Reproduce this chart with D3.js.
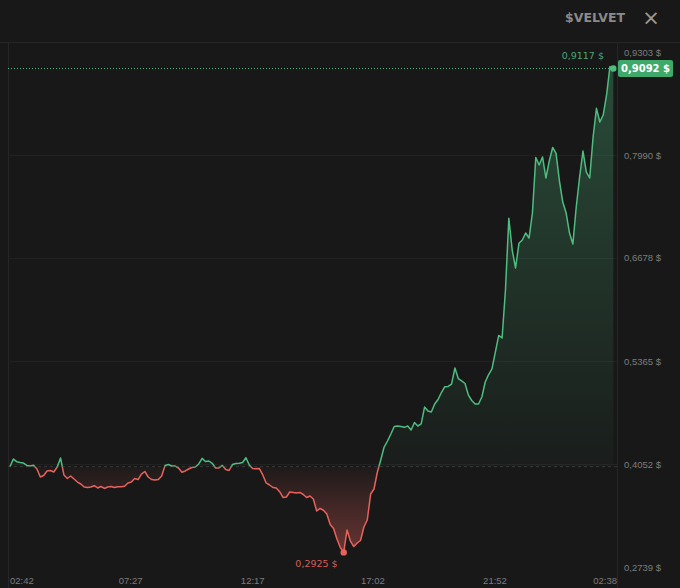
<!DOCTYPE html>
<html>
<head>
<meta charset="utf-8">
<script src="https://cdn.jsdelivr.net/npm/d3@7"></script>
<style>
  html, body { margin: 0; padding: 0; background: #181818; }
  svg { display: block; font-family: "DejaVu Sans", Verdana, sans-serif; }
  .grid line { stroke: #212121; shape-rendering: crispEdges; }
  .frame { stroke: #262626; shape-rendering: crispEdges; }
  .axis text { fill: #7c7c7c; font-size: 9.5px; }
  .axis path, .axis line { display: none; }
  .title { fill: #8a8a8a; font-size: 12.5px; font-weight: bold; }
  .close { fill: #9a9a9a; font-size: 21px; }
</style>
</head>
<body>
<script>
// 8-minute closes, starting at 02:42
const startTime = "02:42";
const stepMinutes = 8;
const prices = [
  0.4018, 0.4115, 0.4081, 0.4071, 0.4064, 0.4033, 0.4026, 0.4035, 0.3988, 0.3886,
  0.3905, 0.3963, 0.3969, 0.3950, 0.4013, 0.4128, 0.3912, 0.3867, 0.3899, 0.3861,
  0.3822, 0.3797, 0.3759, 0.3752, 0.3759, 0.3775, 0.3746, 0.3765, 0.3740, 0.3759,
  0.3765, 0.3752, 0.3762, 0.3762, 0.3768, 0.3810, 0.3822, 0.3867, 0.3854, 0.3924,
  0.3956, 0.3886, 0.3854, 0.3848, 0.3854, 0.3899, 0.4033, 0.4045, 0.4026, 0.4026,
  0.4001, 0.3946, 0.3963, 0.3988, 0.4007, 0.4013, 0.4052, 0.4124, 0.4084, 0.4090,
  0.4061, 0.4001, 0.4001, 0.4033, 0.3982, 0.3969, 0.4045, 0.4058, 0.4061, 0.4071,
  0.4132, 0.4039, 0.3994, 0.3991, 0.3994, 0.3912, 0.3810, 0.3784, 0.3752, 0.3746,
  0.3699, 0.3625, 0.3631, 0.3695, 0.3689, 0.3682, 0.3689, 0.3663, 0.3625, 0.3644,
  0.3606, 0.3453, 0.3485, 0.3462, 0.3415, 0.3281, 0.3230, 0.3096, 0.2988, 0.2925,
  0.3211, 0.3070, 0.3000, 0.3045, 0.3077, 0.3249, 0.3338, 0.3669, 0.3733, 0.3950,
  0.4103, 0.4268, 0.4345, 0.4434, 0.4530, 0.4536, 0.4530, 0.4519, 0.4536, 0.4485,
  0.4581, 0.4536, 0.4562, 0.4778, 0.4727, 0.4715, 0.4816, 0.4874, 0.4963, 0.5037,
  0.5040, 0.5071, 0.5275, 0.5141, 0.5110, 0.5078, 0.4931, 0.4861, 0.4816, 0.4816,
  0.4906, 0.5097, 0.5192, 0.5263, 0.5479, 0.5690, 0.5658, 0.6269, 0.7183, 0.6779,
  0.6550, 0.6865, 0.6907, 0.6996, 0.6932, 0.7251, 0.7958, 0.7863, 0.7965, 0.7697,
  0.7914, 0.8086, 0.8015, 0.7665, 0.7391, 0.7251, 0.6996, 0.6856, 0.7327, 0.7710,
  0.8041, 0.7773, 0.7697, 0.8219, 0.8585, 0.8411, 0.8500, 0.8755, 0.9117, 0.9092
];
const timeTicks = ["02:42", "07:27", "12:17", "17:02", "21:52", "02:38"];
const priceTicks = [0.2739, 0.4052, 0.5365, 0.6678, 0.7990, 0.9303];
const tokenName = "$VELVET";

const width = 680, height = 588;
const plotLeft = 8, plotRight = 617, plotTop = 42;
const green = "#4fbd80", red = "#e8625c";

function toMin(s) { const p = s.split(":"); return +p[0] * 60 + +p[1]; }
function sinceStart(s) { let m = toMin(s) - toMin(startTime); if (m < 0) m += 1440; return m; }
const fmt = v => d3.format(".4f")(v).replace(".", ",") + " $";

const data = prices.map((p, i) => ({ t: i * stepMinutes, p: p }));
const base = prices[0];

const x = d3.scaleLinear().domain([0, sinceStart(timeTicks[timeTicks.length - 1])]).range([10, 615]);
const y = d3.scaleLinear().domain([priceTicks[0], priceTicks[priceTicks.length - 1]]).range([567, 52]);

const svg = d3.select("body").append("svg").attr("width", width).attr("height", height);

const defs = svg.append("defs");
const gUp = defs.append("linearGradient").attr("id", "gUp")
  .attr("gradientUnits", "userSpaceOnUse").attr("x1", 0).attr("x2", 0)
  .attr("y1", y(priceTicks[priceTicks.length - 1])).attr("y2", y(base));
gUp.append("stop").attr("offset", 0).attr("stop-color", green).attr("stop-opacity", 0.32);
gUp.append("stop").attr("offset", 1).attr("stop-color", green).attr("stop-opacity", 0.03);
const gDn = defs.append("linearGradient").attr("id", "gDn")
  .attr("gradientUnits", "userSpaceOnUse").attr("x1", 0).attr("x2", 0)
  .attr("y1", y(base)).attr("y2", y(priceTicks[0]));
gDn.append("stop").attr("offset", 0).attr("stop-color", red).attr("stop-opacity", 0.03);
gDn.append("stop").attr("offset", 1).attr("stop-color", red).attr("stop-opacity", 0.45);

defs.append("clipPath").attr("id", "above").append("rect")
  .attr("x", 0).attr("y", 0).attr("width", width).attr("height", y(base));
defs.append("clipPath").attr("id", "below").append("rect")
  .attr("x", 0).attr("y", y(base)).attr("width", width).attr("height", height - y(base));

/* Frame */
svg.append("line").attr("class", "frame").attr("x1", 0).attr("x2", width).attr("y1", plotTop + 0.5).attr("y2", plotTop + 0.5);
svg.append("line").attr("class", "frame").attr("x1", plotLeft + 0.5).attr("x2", plotLeft + 0.5).attr("y1", plotTop).attr("y2", height);
svg.append("line").attr("class", "frame").attr("x1", plotRight + 0.5).attr("x2", plotRight + 0.5).attr("y1", plotTop).attr("y2", height);

/* Header */
svg.append("text").attr("class", "title").attr("x", 625).attr("y", 22).attr("text-anchor", "end").text(tokenName);
svg.append("text").attr("class", "close").attr("x", 651).attr("y", 24.5).attr("text-anchor", "middle").text("×");

/* Grid */
svg.append("g").attr("class", "grid").selectAll("line")
  .data(priceTicks.slice(1, -1)).enter().append("line")
  .attr("x1", plotLeft).attr("x2", plotRight)
  .attr("y1", d => Math.round(y(d)) + 0.5).attr("y2", d => Math.round(y(d)) + 0.5);

/* Baseline (opening price) */
svg.append("line")
  .attr("x1", plotLeft).attr("x2", plotRight).attr("y1", y(base)).attr("y2", y(base))
  .attr("stroke", "#383838").attr("stroke-dasharray", "3,3");

/* Areas and line, split at the baseline */
const area = d3.area().x(d => x(d.t)).y0(y(base)).y1(d => y(d.p));
const line = d3.line().x(d => x(d.t)).y(d => y(d.p));

svg.append("path").datum(data).attr("d", area).attr("fill", "url(#gUp)").attr("clip-path", "url(#above)");
svg.append("path").datum(data).attr("d", area).attr("fill", "url(#gDn)").attr("clip-path", "url(#below)");
svg.append("path").datum(data).attr("d", line).attr("fill", "none").attr("stroke", green)
  .attr("stroke-width", 1.5).attr("stroke-linejoin", "round").attr("clip-path", "url(#above)");
svg.append("path").datum(data).attr("d", line).attr("fill", "none").attr("stroke", red)
  .attr("stroke-width", 1.5).attr("stroke-linejoin", "round").attr("clip-path", "url(#below)");

/* Current price line */
const last = data[data.length - 1];
svg.append("line")
  .attr("x1", plotLeft).attr("x2", plotRight).attr("y1", y(last.p)).attr("y2", y(last.p))
  .attr("stroke", green).attr("stroke-width", 1).attr("stroke-dasharray", "1,2");

/* High / low markers */
const hi = data[d3.maxIndex(data, d => d.p)];
const lo = data[d3.minIndex(data, d => d.p)];
svg.append("text").attr("x", x(hi.t) - 6).attr("y", y(hi.p) - 11).attr("dy", "0.35em")
  .attr("text-anchor", "end").attr("fill", "#4aa877").attr("font-size", "9.5px").text(fmt(hi.p));
svg.append("text").attr("x", x(lo.t) - 6).attr("y", y(lo.p) + 11).attr("dy", "0.35em")
  .attr("text-anchor", "end").attr("fill", "#d65e58").attr("font-size", "9.5px").text(fmt(lo.p));
svg.append("circle").attr("cx", x(lo.t)).attr("cy", y(lo.p)).attr("r", 3.2).attr("fill", red);
svg.append("circle").attr("cx", x(last.t)).attr("cy", y(last.p)).attr("r", 3.2).attr("fill", green);

/* Y axis */
svg.append("g").attr("class", "axis").attr("transform", "translate(618,0)")
  .call(d3.axisRight(y).tickValues(priceTicks).tickSize(0).tickPadding(6).tickFormat(fmt));

/* Current price label */
const tag = svg.append("g").attr("transform", "translate(618," + y(last.p) + ")");
tag.append("rect").attr("x", 0).attr("y", -8.5).attr("width", 55).attr("height", 17).attr("rx", 2).attr("fill", "#3fa96c");
tag.append("text").attr("x", 27.5).attr("dy", "0.36em").attr("text-anchor", "middle")
  .attr("fill", "#ffffff").attr("font-size", "10px").attr("font-weight", "bold").text(fmt(last.p));

/* X axis */
const xAxis = svg.append("g").attr("class", "axis").attr("transform", "translate(0,571)")
  .call(d3.axisBottom(x).tickValues(timeTicks.map(sinceStart)).tickSize(0).tickPadding(6)
    .tickFormat((d, i) => timeTicks[i]));
xAxis.selectAll(".tick").each(function() {
  const t = d3.select(this).select("text");
  const w = t.node().getComputedTextLength();
  const tx = +d3.select(this).attr("transform").match(/translate\(([-\d.]+)/)[1];
  let shift = 0;
  if (tx - w / 2 < plotLeft + 2) shift = plotLeft + 2 - (tx - w / 2);
  if (tx + w / 2 > plotRight) shift = plotRight - (tx + w / 2);
  t.attr("x", shift);
});
</script>
</body>
</html>
